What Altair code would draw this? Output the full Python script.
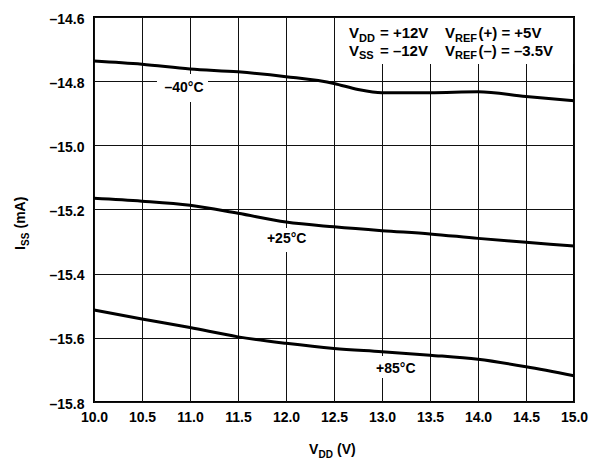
import altair as alt
import pandas as pd

FONT = "Liberation Sans"

# ---- data ----
x_m40 = [10.0, 10.5, 11.0, 11.5, 12.0, 12.5, 12.75, 13.0, 13.5, 14.0, 14.5, 15.0]
y_m40 = [-14.737, -14.747, -14.762, -14.771, -14.786, -14.807, -14.826, -14.836, -14.836, -14.833, -14.848, -14.861]

x_p25 = [10.0, 10.5, 11.0, 11.5, 12.0, 12.5, 13.0, 13.5, 14.0, 14.5, 15.0]
y_p25 = [-15.165, -15.174, -15.187, -15.212, -15.239, -15.254, -15.266, -15.276, -15.290, -15.302, -15.314]

x_p85 = [10.0, 10.5, 11.0, 11.5, 12.0, 12.5, 13.0, 13.5, 14.0, 14.5, 15.0]
y_p85 = [-15.513, -15.541, -15.568, -15.597, -15.617, -15.633, -15.643, -15.654, -15.667, -15.690, -15.718]

x_ticks = [10.0, 10.5, 11.0, 11.5, 12.0, 12.5, 13.0, 13.5, 14.0, 14.5, 15.0]
y_ticks = [-15.8, -15.6, -15.4, -15.2, -15.0, -14.8, -14.6]

# curve labels (data coordinates) and the white patches behind them
label_text = ["\u201340\u00b0C", "+25\u00b0C", "+85\u00b0C"]
label_x = [10.9375, 12.007, 13.144]
label_y = [-14.834, -15.3054, -15.709]

box_x1 = [10.656, 11.75, 12.80, 12.615]
box_x2 = [11.1875, 12.26, 13.48, 14.99]
box_y1 = [-14.7777, -15.258, -15.6567, -14.6035]
box_y2 = [-14.865, -15.3325, -15.725, -14.7465]

# text pieces (pixel offsets from the plot's top-left): text, x, y, size, angle
pieces = [
    ("V", 255, 21, 15, 0), ("DD", 265, 25, 11, 0), ("= +12V", 286, 21, 15, 0),
    ("V", 351, 21, 15, 0), ("REF", 361, 25, 11, 0), ("(+) = +5V", 384.5, 21, 15, 0),
    ("V", 255, 38.7, 15, 0), ("SS", 265, 42, 11, 0), ("= \u201312V", 286, 38.7, 15, 0),
    ("V", 351, 38.7, 15, 0), ("REF", 361, 42, 11, 0), ("(\u2013) = \u20133.5V", 384.5, 38.7, 15, 0),
    # x axis title
    ("V", 215, 437.3, 14, 0), ("DD", 224.5, 441, 10, 0), ("(V)", 243, 437.3, 14, 0),
    # y axis title
    ("I", -69, 233, 14, 270), ("SS", -65.5, 229, 10, 270), ("(mA)", -69, 211.5, 14, 270),
]

rows = []
for t, xs, ys in [("-40", x_m40, y_m40), ("+25", x_p25, y_p25), ("+85", x_p85, y_p85)]:
    for a, b in zip(xs, ys):
        rows.append({"temp": t, "vdd": a, "iss": b})
df = pd.DataFrame(rows)

xscale = alt.Scale(domain=[10, 15], nice=False, zero=False)
yscale = alt.Scale(domain=[-15.8, -14.6], nice=False, zero=False)

boxes = alt.Chart(pd.DataFrame({"x1": box_x1, "x2": box_x2, "y1": box_y1, "y2": box_y2})).mark_rect(
    fill="white", stroke=None
).encode(
    x=alt.X("x1:Q", scale=xscale),
    x2="x2:Q",
    y=alt.Y("y1:Q", scale=yscale),
    y2="y2:Q",
)

lines = alt.Chart(df).mark_line(color="black", strokeWidth=3, interpolate="monotone").encode(
    x=alt.X("vdd:Q", scale=xscale,
            axis=alt.Axis(values=x_ticks, format=".1f", title=None, labelPadding=8)),
    y=alt.Y("iss:Q", scale=yscale,
            axis=alt.Axis(values=y_ticks, title=None, labelPadding=10, labelOffset=2,
                          labelExpr="'\u2013' + format(abs(datum.value), '.1f')")),
    detail="temp:N",
)

labels = alt.Chart(pd.DataFrame({"t": label_text, "x": label_x, "y": label_y})).mark_text(
    font=FONT, fontWeight="bold", fontSize=14, align="center", baseline="alphabetic", color="black"
).encode(
    x=alt.X("x:Q", scale=xscale),
    y=alt.Y("y:Q", scale=yscale),
    text="t:N",
)

layers = [boxes, lines, labels]
for t, px, py, fs, ang in pieces:
    layers.append(
        alt.Chart(alt.Data(values=[{"k": 1}])).mark_text(
            font=FONT, fontWeight="bold", fontSize=fs, align="left", baseline="alphabetic",
            color="black", angle=ang,
        ).encode(x=alt.value(px), y=alt.value(py), text=alt.value(t))
    )

chart = alt.layer(*layers).properties(
    width=480, height=385,
    autosize=alt.AutoSizeParams(type="none"),
    padding={"left": 86, "top": 9, "right": 15, "bottom": 58},
).configure_axis(
    grid=True, gridColor="#111111", gridWidth=1, gridOpacity=1,
    domain=False, ticks=False, labelFlush=False, labelOverlap=False,
    labelFont=FONT, labelFontSize=14, labelFontWeight="bold", labelColor="black",
).configure_view(
    stroke="black", strokeWidth=2,
)

chart.save("out.html", embed_options={"renderer": "svg", "actions": False})
